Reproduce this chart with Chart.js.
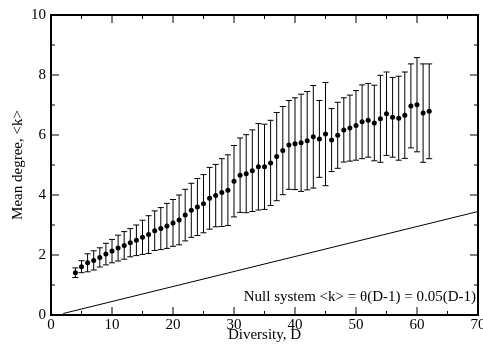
<!DOCTYPE html>
<html>
<head>
<meta charset="utf-8">
<script src="https://cdn.jsdelivr.net/npm/chart.js@4.4.1/dist/chart.umd.min.js"></script>
<style>
  html, body { margin: 0; padding: 0; background: #fff; }
</style>
</head>
<body>
<canvas id="myChart" width="483" height="350"></canvas>
<script>
// diversity D and measured mean degree <k> with error bar half-widths
const diversity = [4, 5, 6, 7, 8, 9, 10, 11, 12, 13, 14, 15, 16, 17, 18, 19, 20, 21, 22, 23,
  24, 25, 26, 27, 28, 29, 30, 31, 32, 33, 34, 35, 36, 37, 38, 39, 40, 41, 42, 43,
  44, 45, 46, 47, 48, 49, 50, 51, 52, 53, 54, 55, 56, 57, 58, 59, 60, 61, 62];
const meanDegree = [1.41, 1.61, 1.74, 1.82, 1.92, 2.03, 2.13, 2.23, 2.32, 2.41, 2.49, 2.59, 2.68, 2.81, 2.88, 2.97, 3.07, 3.17, 3.33, 3.49,
  3.60, 3.71, 3.89, 3.98, 4.08, 4.16, 4.46, 4.66, 4.71, 4.81, 4.94, 4.94, 5.07, 5.28, 5.48, 5.67, 5.71, 5.74, 5.81, 5.94,
  5.87, 6.03, 5.83, 5.99, 6.17, 6.23, 6.32, 6.44, 6.49, 6.40, 6.54, 6.71, 6.59, 6.56, 6.66, 6.97, 7.01, 6.73, 6.79];
const errDegree = [0.16, 0.20, 0.30, 0.32, 0.32, 0.36, 0.39, 0.43, 0.46, 0.47, 0.51, 0.57, 0.63, 0.66, 0.70, 0.75, 0.78, 0.83, 0.86, 0.90,
  0.95, 0.97, 1.03, 1.04, 1.13, 1.18, 1.19, 1.24, 1.30, 1.36, 1.44, 1.42, 1.42, 1.47, 1.47, 1.48, 1.53, 1.62, 1.64, 1.71,
  1.28, 1.72, 1.05, 1.10, 1.07, 1.10, 1.16, 1.23, 1.23, 1.26, 1.45, 1.39, 1.33, 1.40, 1.44, 1.40, 1.57, 1.64, 1.58];

// null system line end points
const nullX = [2, 70];
const nullY = [0.05, 3.45];

const xTicks = [0, 10, 20, 30, 40, 50, 60, 70];
const yTicks = [0, 2, 4, 6, 8, 10];
const nullLabel = 'Null system <k> = \u03b8(D-1) = 0.05(D-1)';

const serif = 'Liberation Serif';

const errorBars = {
  id: 'errorBars',
  beforeDatasetsDraw(chart) {
    const { ctx, scales: { x, y } } = chart;
    ctx.save();
    ctx.strokeStyle = '#000';
    ctx.lineWidth = 1;
    diversity.forEach((d, i) => {
      const px = x.getPixelForValue(d);
      const top = y.getPixelForValue(meanDegree[i] + errDegree[i]);
      const bot = y.getPixelForValue(meanDegree[i] - errDegree[i]);
      ctx.beginPath();
      ctx.moveTo(px, top);
      ctx.lineTo(px, bot);
      ctx.moveTo(px - 3, top);
      ctx.lineTo(px + 3, top);
      ctx.moveTo(px - 3, bot);
      ctx.lineTo(px + 3, bot);
      ctx.stroke();
    });
    ctx.restore();
  }
};

const frameTicks = {
  id: 'frameTicks',
  afterDraw(chart) {
    const { ctx, chartArea: a, scales: { x, y } } = chart;
    ctx.save();
    ctx.strokeStyle = '#000';
    ctx.lineWidth = 2;
    ctx.strokeRect(a.left, a.top, a.right - a.left, a.bottom - a.top);
    ctx.lineWidth = 1;
    ctx.beginPath();
    for (let v = 5; v < 70; v += 5) {
      const len = v % 10 === 0 ? 8 : 4;
      const px = x.getPixelForValue(v);
      ctx.moveTo(px, a.bottom);
      ctx.lineTo(px, a.bottom - len);
      ctx.moveTo(px, a.top);
      ctx.lineTo(px, a.top + len);
    }
    for (let v = 1; v < 10; v++) {
      const len = v % 2 === 0 ? 8 : 4;
      const py = y.getPixelForValue(v);
      ctx.moveTo(a.left, py);
      ctx.lineTo(a.left + len, py);
      ctx.moveTo(a.right, py);
      ctx.lineTo(a.right - len, py);
    }
    ctx.stroke();

    ctx.fillStyle = '#000';
    ctx.font = '15px "' + serif + '"';
    ctx.textAlign = 'right';
    ctx.textBaseline = 'alphabetic';
    ctx.fillText(nullLabel, a.right - 2, 301);
    ctx.restore();
  }
};

new Chart(document.getElementById('myChart'), {
  type: 'scatter',
  data: {
    datasets: [
      {
        label: 'mean degree',
        data: diversity.map((d, i) => ({ x: d, y: meanDegree[i] })),
        pointRadius: 2.5,
        pointBackgroundColor: '#000',
        pointBorderWidth: 0
      },
      {
        label: 'null system',
        data: nullX.map((d, i) => ({ x: d, y: nullY[i] })),
        showLine: true,
        pointRadius: 0,
        borderColor: '#000',
        borderWidth: 1
      }
    ]
  },
  options: {
    responsive: false,
    animation: false,
    events: [],
    layout: { autoPadding: false, padding: { top: 15, right: 5, left: 0, bottom: 0 } },
    plugins: {
      legend: { display: false },
      tooltip: { enabled: false }
    },
    scales: {
      x: {
        type: 'linear',
        min: 0,
        max: 70,
        afterBuildTicks: s => { s.ticks = xTicks.map(v => ({ value: v })); },
        afterFit: s => { s.height = 35; s.paddingLeft = 0; s.paddingRight = 0; },
        grid: { display: false, drawTicks: false },
        border: { display: false },
        ticks: { color: '#000', font: { family: serif, size: 15 }, padding: 1, maxRotation: 0 },
        title: {
          display: true,
          text: 'Diversity, D',
          color: '#000',
          font: { family: serif, size: 15 },
          padding: { top: 0, bottom: 6 }
        }
      },
      y: {
        type: 'linear',
        min: 0,
        max: 10,
        afterBuildTicks: s => { s.ticks = yTicks.map(v => ({ value: v })); },
        afterFit: s => { s.width = 51; s.paddingTop = 0; s.paddingBottom = 0; },
        grid: { display: false, drawTicks: false },
        border: { display: false },
        ticks: { color: '#000', font: { family: serif, size: 15 }, padding: 5 },
        title: {
          display: true,
          text: 'Mean degree, <k>',
          color: '#000',
          font: { family: serif, size: 15 },
          padding: { top: 9, bottom: 0 }
        }
      }
    }
  },
  plugins: [errorBars, frameTicks]
});
</script>
</body>
</html>
